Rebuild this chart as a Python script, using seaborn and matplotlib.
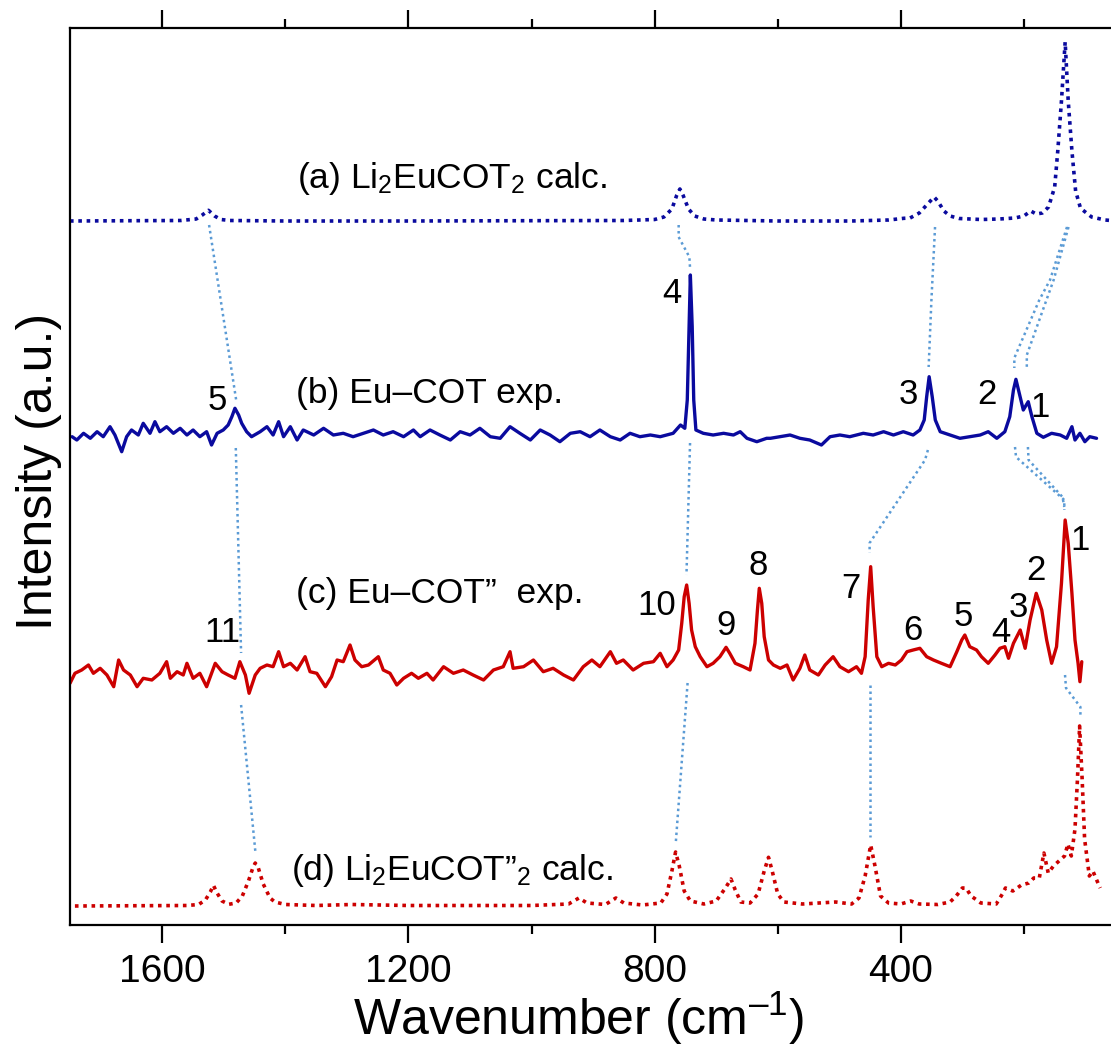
import numpy as np
import pandas as pd
import seaborn as sns
import matplotlib.pyplot as plt

# ---- spectra (wavenumber in cm-1, intensity in arbitrary units above each trace's baseline)
calc_a_wn = [1750, 1570, 1545, 1535, 1525, 1515, 1505, 1490, 1400, 1200, 1000, 850, 800, 785, 772,
             764, 759, 754, 745, 735, 720, 700, 600, 480, 420, 395, 385, 370, 355, 346, 340, 330,
             320, 305, 270, 240, 215, 200, 189, 180, 170, 160, 150, 145, 139, 133, 128, 122, 116,
             108, 90, 68, 58.5]
calc_a_int = [0, 0.5, 2, 6, 10.7, 5, 1.5, 0.5, 0, 0, 0.3, 0.5, 1.5, 4, 12,
              26, 32, 26, 12, 5, 2, 1, 0, 0, 1, 2.7, 3, 8, 18, 24, 20, 10,
              5, 2.5, 1.5, 2, 3, 5, 10, 7, 8, 14, 34, 70, 120, 179, 120, 70, 30,
              12.7, 4, 1, 0.5]

exp_b_wn = [1746.6, 1738.9, 1728, 1717, 1706, 1696, 1685, 1677, 1666, 1658, 1650, 1639, 1631, 1620,
            1612, 1604, 1593, 1582, 1571, 1560, 1550, 1539, 1528, 1520, 1511, 1501, 1493, 1487,
            1482, 1476, 1471, 1463, 1455, 1441, 1430, 1420, 1411, 1403, 1392, 1381, 1371, 1354,
            1338, 1322, 1306, 1290, 1273, 1257, 1241, 1225, 1208, 1192, 1181, 1165, 1149, 1132,
            1116, 1100, 1084, 1067, 1051, 1035, 1019, 1002, 986, 970, 954, 937, 921, 905, 889,
            872, 856, 840, 824, 807, 791, 770, 758, 751, 747, 744, 742, 739, 736.5, 733, 721, 705,
            688, 672, 661, 650, 634, 618, 612, 596, 580, 564, 548, 529, 515, 499, 483, 461, 445,
            428, 412, 396, 380, 369, 362, 358, 354, 349, 344, 336, 320, 304, 288, 271, 258, 244,
            231, 223, 217, 213, 207.5, 201, 193, 187, 179, 168.5, 155, 141, 130.5, 122, 117, 109,
            101, 93, 82]
exp_b_int = [-1.7, -5, 1.7, -3.3, 3.3, -1.7, 8.3, 0, -16.7, -1.7, 5, 0, 11.7, 1.7,
             13.3, 3.3, 8.3, 1.7, 6.7, 0, 5, -1.7, 3.3, -10, 1.7, 5, 10, 18.3,
             26.7, 20, 11.7, 3.3, -1.7, 3.3, 8.3, 0, 13.3, -1.7, 8.3, -5, 5, 0,
             6.7, 0, 1.7, -1.7, 1.7, 5, 0, 3.3, -1.7, 5, -1.7, 5, 0, -5,
             3.3, 0, 6.7, -1.7, -3.3, 8.3, 1.7, -5, 5, 0, -6.7, 1.7, 3.3, -1.7, 5,
             -1.7, -5, 1.7, -1.7, 0, -1.7, 1.7, 10, 6.7, 35, 108.3, 160, 108.3, 35, 5, 1.7, 0,
             1.7, 0, 3.3, -3.3, -6.7, -3.3, -3.3, -1.7, 0, -3.3, -5, -10, -1.7, 0, -1.7, 1.7, 0,
             3.3, 0, 3.3, 0, 5, 15, 38.3, 58.3, 38.3, 15, 3.3, 0, -3.3, -1.7, 0, 3.3, -3.3,
             3.3, 18.3, 45, 55.7, 41.7, 25, 33.3, 18.3, 1.7, -2.3, 1.7, 0, -3.3, 8.3, -5, 1.7,
             -6.7, -1.7, -3.3]

exp_c_wn = [1750, 1742, 1731, 1720, 1712, 1701, 1690, 1679, 1671, 1663, 1652, 1641, 1631, 1617,
            1604, 1593, 1587, 1576, 1566, 1560, 1550, 1539, 1528, 1514, 1503, 1493, 1482, 1474,
            1465, 1459, 1449, 1441, 1430, 1420, 1411, 1403, 1392, 1381, 1368, 1360, 1349, 1335,
            1325, 1316, 1306, 1295, 1287, 1276, 1265, 1249, 1241, 1230, 1219, 1208, 1195, 1184,
            1170, 1160, 1143, 1127, 1111, 1095, 1078, 1062, 1046, 1035, 1030, 1013, 997, 981,
            965, 948, 932, 916, 902, 889, 872, 862, 851, 835, 818, 802, 791, 780, 770, 761, 756,
            752, 748, 744, 740, 734, 726, 715, 705, 694, 684, 678, 669, 656, 645, 637, 633, 630,
            626, 622, 615, 607, 596, 585, 575, 564, 556, 548, 534, 523, 510, 499, 485, 472, 464,
            458, 453, 449, 445, 439, 431, 420, 409, 399, 390, 380, 369, 358, 347, 334, 320, 309,
            301, 296, 288, 277, 269, 258, 247, 239, 231, 225, 217, 206, 198, 190, 180, 171, 163,
            155, 147, 139, 133, 128, 122, 117, 112, 109, 106]
exp_c_int = [-13.3, -3.3, 0, 5, -3.3, 1.7, -5, -16.7, 10, 0, -5, -16.7, -8.3, -10,
             -3.3, 8.3, -8.3, -1.7, -5, 6.7, -8.3, -3.3, -16.7, 6.7, -1.7, -5, -8.3, 8.3,
             -5, -23.3, -5, 1.7, 5, 3.3, 18.3, 3.3, 6.7, 0, 13.3, -1.7, -3.3, -16.7,
             -6.7, 10, 8.3, 25, 10, 3.3, 5, 13.3, 0, -3.3, -15, -8.3, -3.3, -8.3,
             -3.3, -10, 3.3, -3.3, 0, -5, -10, 0, 3.3, 18.3, 1.7, 3.3, 10, -1.7,
             1.7, -5, -10, 3.3, 10, 3.3, 18.3, 6.7, 10, 0, 6.7, 8.3, 16.7, 3.3, 10, 20, 46.7,
             73.3, 85, 66.7, 40, 23.3, 13.3, 3.3, 6.7, 13.3, 22.7, 16.7, 6.7, 3.3, 0, 26.7, 60, 81.7,
             66.7, 33.3, 10, 5, 1.7, 5, -10, 1.7, 15, 0, -5, 5, 13.3, 3.3, -1.7, 3.3, -3.3,
             13.3, 70, 103.3, 63.3, 13.3, 3.3, 6.7, 5, 10, 18.3, 20, 21.7, 13.3, 10, 6.7, 3.3, 18.3,
             30, 35, 23.3, 20, 13.3, 6.7, 15, 21.7, 23.3, 11.7, 26.7, 40, 21.7, 50, 76.7, 60, 30,
             6.7, 23.3, 86.7, 150, 126.7, 76.7, 30, 6.7, -11.7, 8.3]

calc_d_wn = [1742, 1560, 1541, 1530, 1522, 1517, 1511, 1503, 1492, 1480, 1470, 1460, 1453, 1449,
             1444, 1436, 1425, 1417, 1400, 1350, 1292, 1200, 1000, 940, 923, 910, 880, 863, 850,
             820, 790, 780, 772, 766, 760, 752, 742, 720, 700, 685, 676, 669, 660, 645, 632, 622,
             615, 609, 600, 590, 560, 506, 480, 468, 458, 449, 442, 433, 420, 400, 384, 370, 340,
             320, 310, 300, 294, 286, 279, 270, 245, 235, 230, 218, 204, 192, 184, 175, 167.5,
             160.5, 152, 143, 134, 128.5, 123, 117, 113, 109.5, 105.4, 101.4, 93.7, 88, 79, 76]
calc_d_int = [0, 0.5, 1.5, 6, 14, 20.7, 13, 5, 1.7, 3, 10, 25, 38, 43,
              38, 22, 8, 4, 1.5, 0.5, 1.5, 0.5, 0.5, 2, 8, 3, 1.5, 8, 3,
              1, 3, 12, 35, 54, 40, 15, 5, 2, 5, 18, 27, 16, 4, 3, 12, 35,
              48.7, 35, 12, 4, 2, 4, 2, 8, 30, 61, 40, 10, 3, 2, 5, 2, 1.5,
              4, 10, 18, 18, 10, 7, 3, 2, 12, 18, 15, 21, 23, 28, 28, 53,
              33, 40, 45, 50, 62, 50, 77, 127, 180, 127, 67, 30, 35, 22, 18]

# vertical stacking of the traces
OFFSET_A, OFFSET_B, OFFSET_C, OFFSET_D = 704, 490, 255, 19

# dotted guides linking matching bands (wavenumber, height) polylines
guides = [
    [(1524, 700), (1479.5, 523)], [(1480.6, 477), (1472, 272)], [(1472, 220), (1448.6, 72)],
    [(761, 700), (761, 688), (743.6, 668), (742.5, 657)], [(742.5, 482), (748.3, 350)],
    [(746.5, 242), (765.7, 82)],
    [(344.4, 698), (350.3, 625), (354.8, 558)], [(356, 475), (360.7, 465), (450.7, 382), (450.7, 372)],
    [(449.4, 240), (449.4, 88)],
    [(130, 698), (157.6, 645), (175, 625), (215.6, 567), (215.6, 557)],
    [(127.5, 698), (151.7, 645), (163.4, 625), (195.3, 570), (195.3, 555)],
    [(214.5, 478), (212.8, 468), (134.4, 425), (134.4, 415)],
    [(193.5, 478), (192.4, 465), (137.3, 428), (134.4, 418)],
    [(133.2, 250), (131.6, 237), (108.2, 218), (108.2, 208)],
]

trace_labels = ["(a) Li$_2$EuCOT$_2$ calc.", "(b) Eu\u2013COT exp.",
                "(c) Eu\u2013COT\u201d  exp.", "(d) Li$_2$EuCOT\u201d$_2$ calc."]
trace_label_pos = [(1381, 737), (1383, 522), (1383, 322), (1391, 45)]

b_peak_labels = ["5", "4", "3", "2", "1"]
b_peak_pos = [(1511.5, 515), (772, 622), (388, 521), (260, 521), (174, 508)]
c_peak_labels = ["11", "10", "9", "8", "7", "6", "5", "4", "3", "2", "1"]
c_peak_pos = [(1503, 283), (797, 310), (684, 290), (632, 350), (481, 327), (381, 285),
              (298.5, 299), (238, 283), (209, 308), (180, 345), (109, 375)]

sns.set_style("ticks")
plt.rcParams['font.family'] = ['Liberation Sans', 'DejaVu Sans']
plt.rcParams['mathtext.fontset'] = 'custom'
plt.rcParams['mathtext.rm'] = 'Liberation Sans'
plt.rcParams['mathtext.it'] = 'Liberation Sans:italic'
plt.rcParams['mathtext.default'] = 'regular'
for key in ['text.color', 'axes.labelcolor', 'xtick.color', 'ytick.color', 'axes.edgecolor']:
    plt.rcParams[key] = 'black'

fig = plt.figure(figsize=(11.11, 10.57), dpi=100)
ax = fig.add_axes([70 / 1111, 132 / 1057, 1041 / 1111, 897 / 1057])

navy = "#0a0a9e"
red = "#cc0000"
dots = (0, (1, 1.3))
spectra = [
    (calc_a_wn, calc_a_int, OFFSET_A, navy, dots, 2.6),
    (exp_b_wn, exp_b_int, OFFSET_B, navy, "-", 2.4),
    (exp_c_wn, exp_c_int, OFFSET_C, red, "-", 2.4),
    (calc_d_wn, calc_d_int, OFFSET_D, red, dots, 2.6),
]
for wn, inten, off, col, ls, lw in spectra:
    df = pd.DataFrame({"wavenumber": wn, "intensity": np.array(inten) + off})
    sns.lineplot(data=df, x="wavenumber", y="intensity", sort=False, estimator=None,
                 color=col, linestyle=ls, lw=lw, legend=False, ax=ax)

for g in guides:
    gx, gy = zip(*g)
    ax.plot(gx, gy, color="#5b9bd5", lw=1.8, linestyle=(0, (1, 1.4)))

for txt, (x, y) in zip(trace_labels, trace_label_pos):
    ax.text(x, y, txt, fontsize=25.5, ha="left", va="baseline")
for txt, (x, y) in zip(b_peak_labels + c_peak_labels, b_peak_pos + c_peak_pos):
    ax.text(x, y, txt, fontsize=25, ha="center", va="baseline")

ax.set_xlim(1750, 58.5)
ax.set_ylim(0, 897)
ax.set_xticks([1600, 1200, 800, 400])
ax.set_xticks([1400, 1000, 600, 200], minor=True)
ax.set_yticks([])
ax.tick_params(axis="x", which="both", direction="out", top=True, labeltop=False,
               width=1.6, labelsize=28, pad=8)
ax.tick_params(axis="x", which="major", length=13)
ax.tick_params(axis="x", which="minor", length=6.5)
ax.spines["right"].set_visible(False)
for s in ["left", "top", "bottom"]:
    ax.spines[s].set_linewidth(1.6)

ax.set_xlabel("Wavenumber (cm$^{\u2013 1}$)", fontsize=36)
ax.xaxis.set_label_coords(0.488, -0.072)
ax.set_ylabel("Intensity (a.u.)", fontsize=36)
ax.yaxis.set_label_coords(-0.008, 0.506)

fig.savefig("out.png", dpi=100)
